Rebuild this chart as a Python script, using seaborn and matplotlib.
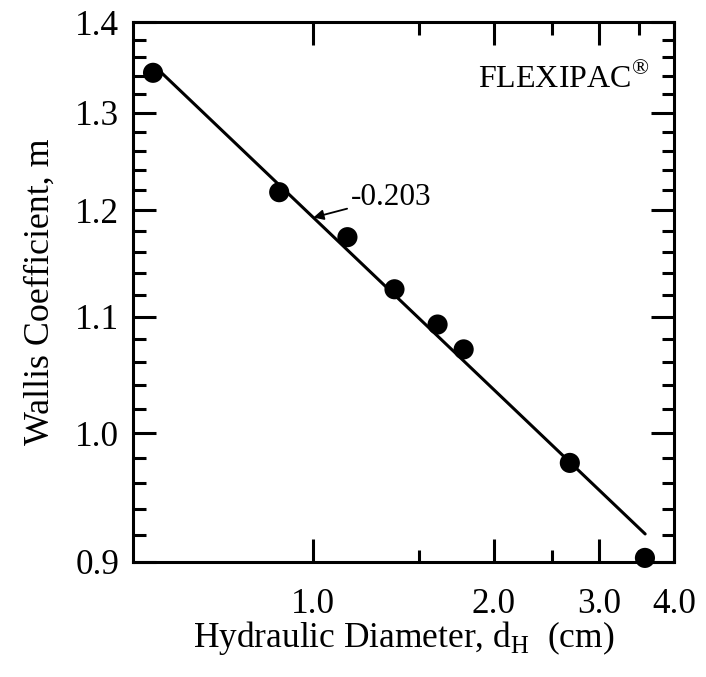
import numpy as np
import pandas as pd
import matplotlib
matplotlib.use("Agg")
import matplotlib.pyplot as plt
from matplotlib.ticker import FixedLocator, FixedFormatter, NullFormatter
import seaborn as sns

# Hydraulic diameter (cm) and Wallis coefficient m for the FLEXIPAC packings
hydraulic_diameter = [0.54, 0.877, 1.140, 1.366, 1.612, 1.782, 2.680, 3.577]
wallis_m = [1.343, 1.218, 1.174, 1.125, 1.093, 1.071, 0.976, 0.903]

# Power-law correlation m = C * dH^exponent
fit_exponent = -0.203
fit_coefficient = 1.193
fit_range = [0.54, 3.58]

x_major = [1.0, 2.0, 3.0, 4.0]
x_major_labels = ["1.0", "2.0", "3.0", "4.0"]
x_minor = [1.5, 2.5, 3.5]
y_major = [0.9, 1.0, 1.1, 1.2, 1.3, 1.4]
y_major_labels = ["0.9", "1.0", "1.1", "1.2", "1.3", "1.4"]
y_minor = [0.92, 0.94, 0.96, 0.98, 1.02, 1.04, 1.06, 1.08, 1.12, 1.14, 1.16, 1.18,
           1.22, 1.24, 1.26, 1.28, 1.32, 1.34, 1.36, 1.38]

sns.set_style("ticks")
plt.rcParams["font.family"] = ["Liberation Serif", "DejaVu Serif"]
plt.rcParams["mathtext.fontset"] = "custom"
plt.rcParams["mathtext.rm"] = "Liberation Serif"
plt.rcParams["text.color"] = "black"
plt.rcParams["axes.labelcolor"] = "black"
plt.rcParams["xtick.color"] = "black"
plt.rcParams["ytick.color"] = "black"

points = pd.DataFrame({"dH": hydraulic_diameter, "m": wallis_m})
fit_x = np.geomspace(fit_range[0], fit_range[1], 50)
fit = pd.DataFrame({"dH": fit_x, "m": fit_coefficient * fit_x ** fit_exponent})

fig = plt.figure(figsize=(7.06, 6.77), dpi=100)
ax = fig.add_axes([0.1884, 0.1699, 0.7663, 0.7976])

sns.lineplot(data=fit, x="dH", y="m", ax=ax, color="black", linewidth=2.2)
sns.scatterplot(data=points, x="dH", y="m", ax=ax, color="black", s=210,
                edgecolor="none", clip_on=False, zorder=5)

ax.set_xscale("log")
ax.set_yscale("log")
ax.set_xlim(0.5, 4.0)
ax.set_ylim(0.9, 1.4)

ax.xaxis.set_major_locator(FixedLocator(x_major))
ax.xaxis.set_major_formatter(FixedFormatter(x_major_labels))
ax.xaxis.set_minor_locator(FixedLocator(x_minor))
ax.xaxis.set_minor_formatter(NullFormatter())
ax.yaxis.set_major_locator(FixedLocator(y_major))
ax.yaxis.set_major_formatter(FixedFormatter(y_major_labels))
ax.yaxis.set_minor_locator(FixedLocator(y_minor))
ax.yaxis.set_minor_formatter(NullFormatter())

ax.tick_params(which="both", direction="in", top=True, right=True,
               width=2.2, color="black", labelcolor="black", labelsize=25.3)
ax.tick_params(which="major", length=16.5)
ax.tick_params(which="minor", length=9)
ax.tick_params(axis="y", which="major", pad=10)
ax.tick_params(axis="x", which="major", pad=19)
for spine in ax.spines.values():
    spine.set_linewidth(2.2)
    spine.set_color("black")

ax.set_xlabel(r"Hydraulic Diameter, d$_\mathregular{H}$  (cm)", fontsize=25.5,
              labelpad=-2, color="black")
ax.set_ylabel("Wallis Coefficient, m", fontsize=25.8, labelpad=13.5, color="black")

ax.text(0.955, 0.896, r"FLEXIPAC$^\mathregular{®}$", transform=ax.transAxes,
        ha="right", va="center", fontsize=23, color="black")

ax.annotate(f"{fit_exponent:.3f}", xy=(1.0, fit_coefficient * 1.0 ** fit_exponent),
            xytext=(1.153, 1.213), fontsize=22.5, ha="left", va="center", color="black",
            arrowprops=dict(arrowstyle="-|>", color="black", lw=1.3,
                            mutation_scale=15, shrinkA=0, shrinkB=0))

fig.savefig("out.png", dpi=100)
